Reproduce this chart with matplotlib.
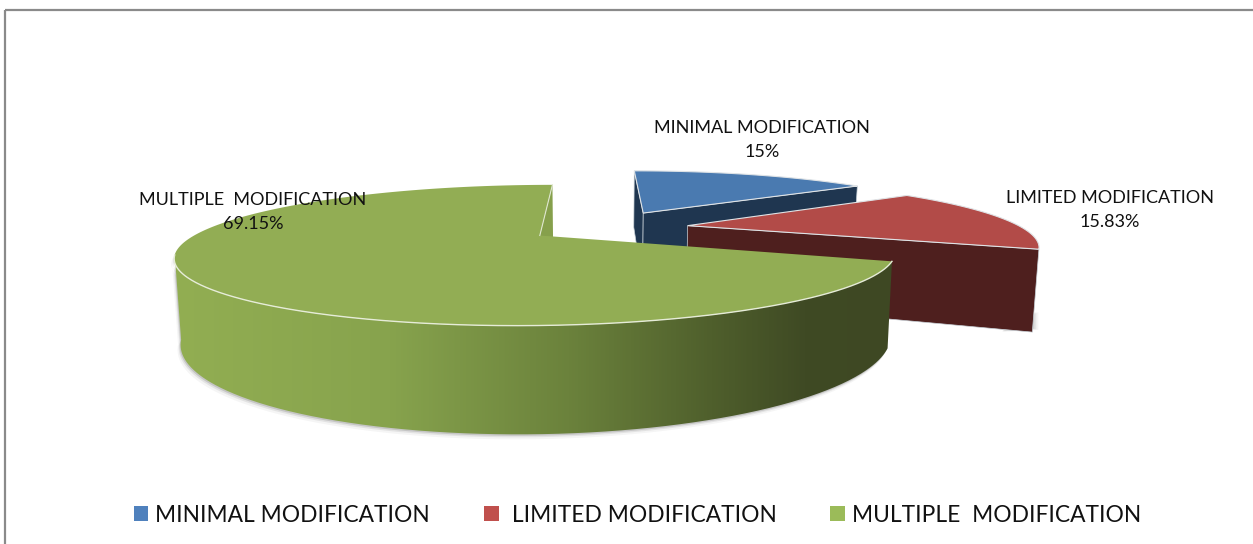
import numpy as np
import matplotlib
matplotlib.use("Agg")
import matplotlib.pyplot as plt
from matplotlib.colors import LinearSegmentedColormap
from matplotlib.patches import Patch, PathPatch, Polygon, Rectangle
from matplotlib.path import Path

# Chart values
categories = ["MINIMAL MODIFICATION", "LIMITED MODIFICATION", "MULTIPLE  MODIFICATION"]
legend_names = ["MINIMAL MODIFICATION", " LIMITED MODIFICATION", "MULTIPLE  MODIFICATION"]
percents = [15, 15.83, 69.15]

# Colours of each slice: top surface, cut face
top_colors = ["#4a7ab0", "#b24b48", "#92ad54"]
face_colors = ["#1f3650", "#4e1f1e", "#86a04c"]
legend_colors = ["#4f81bd", "#c0504d", "#9bbb59"]

# Look of the 3D pie
explode = [0.29, 0.26, 0.22]
start_angle = 90
shift = (0.01, -0.045)
vanish_x, vanish_y = 599, 4
width_scale, height_scale = 330, 221
perspective = 0.2675
base_x, base_y = 0.985, 1.338


def project(x, y):
    w = 1 + perspective * y
    return vanish_x + width_scale * x / w, vanish_y + height_scale / w


def drop(sx, sy):
    # from the top plane of the pie to its bottom plane
    return vanish_x + base_x * (sx - vanish_x), vanish_y + base_y * (sy - vanish_y)


def arc(off, a0, a1, n=200):
    t = np.radians(np.linspace(a0, a1, n))
    return project(off[0] + np.cos(t), off[1] + np.sin(t))


fig = plt.figure(figsize=(12.53, 5.44), dpi=100)
ax = fig.add_axes([0, 0, 1, 1])
ax.set_xlim(0, 1253)
ax.set_ylim(544, 0)
ax.axis("off")
ax.add_patch(Rectangle((5, 10), 1300, 600, fill=False, ec="#8a8a8a", lw=1.6))

# Work out where the slices go
slices = []
a = start_angle
for p, e in zip(percents, explode):
    a1 = a - p * 3.6
    mid = np.radians((a + a1) / 2)
    off = (e * np.cos(mid) + shift[0], e * np.sin(mid) + shift[1])
    slices.append((a, a1, off))
    a = a1

# Blue and red, far slices first
for i in [0, 1]:
    a0, a1, off = slices[i]
    ax0, ay0 = project(off[0], off[1])
    xs, ys = arc(off, a0, a1)
    for k in [0, -1]:
        bx0, by0 = drop(ax0, ay0)
        bx1, by1 = drop(xs[k], ys[k])
        if i == 1 and k == 0:
            continue
        ax.add_patch(Polygon([(ax0, ay0), (xs[k], ys[k]), (bx1, by1), (bx0, by0)],
                             fc=face_colors[i], ec="#c9d2d8", lw=0.5, zorder=2 + i))
    if i == 1:
        # soft shadow at the outer corner
        bx1, by1 = drop(xs[-1], ys[-1])
        for d, al in [(6, 0.06), (4, 0.10), (2, 0.15)]:
            ax.add_patch(Polygon([(bx1 - 30, by1 - 2 + d * 0.3), (bx1 + d, by1 - 4 + d * 0.3), (bx1 + d, by1 - 20)],
                                 fc="#555555", ec="none", alpha=al, zorder=1))
    ax.add_patch(Polygon(np.r_[[[ax0, ay0]], np.c_[xs, ys]], fc=top_colors[i],
                         ec="#dfe3e6", lw=0.8, joinstyle="miter", zorder=3 + i))

# Green slice
a0, a1, off = slices[2]
ax0, ay0 = project(off[0], off[1])
xs, ys = arc(off, a0, a1, 500)
# outer wall, from the right end round the front to the left extreme
wall_top = arc(off, a0, -164, 300)
wall_bot = drop(*wall_top)
wall = np.r_[np.c_[wall_top], np.c_[wall_bot][::-1]]

# shadow under the wall
for d, al in [(5, 0.05), (3, 0.10), (1.5, 0.18)]:
    ax.add_patch(Polygon(wall + [-d * 0.6, d], fc="#444444", ec="none", alpha=al, zorder=4))

wall_cmap = LinearSegmentedColormap.from_list(
    "wall", [(0.0, "#92ae52"), (0.3, "#87a34d"), (0.55, "#6b823c"), (0.75, "#4f5f2c"),
             (0.88, "#3f4a24"), (1.0, "#3e4823")])
wall_x = wall[:, 0]
img = ax.imshow(np.linspace(0, 1, 512)[None, :], cmap=wall_cmap, vmin=0, vmax=1, aspect="auto",
                extent=(wall_x.min(), wall_x.max(), 544, 0), zorder=5)
img.set_clip_path(PathPatch(Path(wall), transform=ax.transData))
ax.set_xlim(0, 1253)
ax.set_ylim(544, 0)

# inner face seen through the gap at the top
gx, gy = xs[-1], ys[-1]
ax.add_patch(Polygon([(ax0, ay0), (gx, gy), drop(gx, gy), drop(ax0, ay0)],
                     fc=face_colors[2], ec="none", zorder=5))
ax.add_patch(Polygon(np.r_[[[ax0, ay0]], np.c_[xs, ys]], fc=top_colors[2],
                     ec="none", joinstyle="miter", zorder=6))
ax.plot([ax0, gx], [ay0, gy], color="#dfe6cf", lw=0.8, zorder=7)
ax.plot(wall_top[0], wall_top[1], color="#e6ecd8", lw=1.0, zorder=7)

# Data labels
label_font = {"family": "Lato", "fontsize": 13, "color": "#111111", "ha": "center", "va": "center", "zorder": 8}
label_pos = [(762, 140), (1110, 210), (253, 212)]
for name, p, (lx, ly) in zip(categories, percents, label_pos):
    ax.text(lx, ly, "{}\n{:g}%".format(name, p), linespacing=1.6, **label_font)

# Legend
handles = [Patch(fc=c, ec="none") for c in legend_colors]
ax.legend(handles, legend_names, ncols=3, loc="center", bbox_to_anchor=(637.5 / 1253, 1 - 515 / 544),
          frameon=False, prop={"family": "Lato", "size": 16.4}, labelcolor="#111111",
          handlelength=0.65, handleheight=0.65, handletextpad=0.3, columnspacing=2.37)

fig.savefig("out.png", dpi=100)
